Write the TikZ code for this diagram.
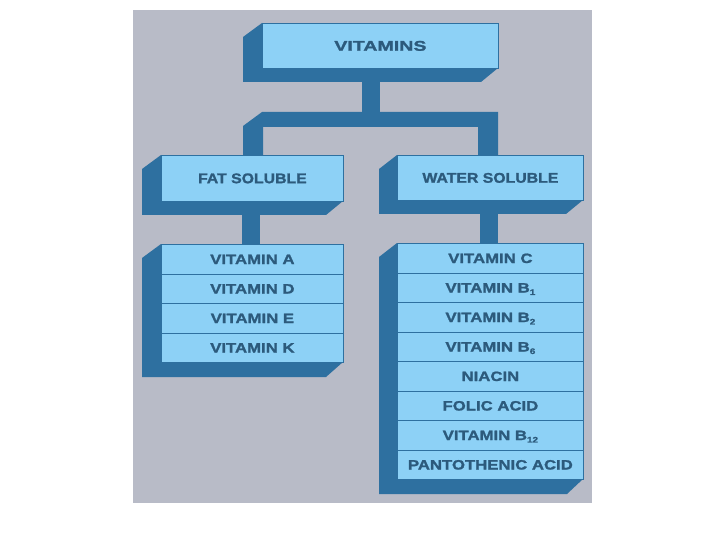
\documentclass[tikz,border=0pt]{standalone}
\usepackage{fontspec}
\setmainfont{Liberation Sans}
\newfontfamily\topf[FakeStretch=1.40,BoldFeatures={FakeBold=1.5}]{Liberation Sans}
\newfontfamily\titf[FakeStretch=1.13,BoldFeatures={FakeBold=1.5}]{Liberation Sans}
\newfontfamily\rowf[FakeStretch=1.24,BoldFeatures={FakeBold=1.5}]{Liberation Sans}
\definecolor{panel}{HTML}{B8BBC7}
\definecolor{face}{HTML}{8DD1F6}
\definecolor{deep}{HTML}{2E70A0}
\definecolor{ink}{HTML}{2C5A7C}
\newcommand{\sbs}[1]{\raisebox{-0.35ex}{\fontsize{8}{8}\selectfont #1}}
\tikzset{
  facebox/.style={fill=face, draw=deep, line width=0.8pt},
  toplab/.style={text=ink, font=\topf\bfseries\fontsize{14}{14}\selectfont},
  titlab/.style={text=ink, font=\titf\bfseries\fontsize{14}{14}\selectfont},
  rowlab/.style={text=ink, font=\rowf\bfseries\fontsize{13.5}{13.5}\selectfont, text height=9.7pt, text depth=0pt, inner sep=0pt},
}
\begin{document}
\begin{tikzpicture}[x=1pt,y=-1pt]
\useasboundingbox (0,0) rectangle (720,540);
\fill[white] (0,0) rectangle (720,540);
\fill[panel] (133,10) rectangle (592,503);

% connectors
\fill[deep] (362,80) rectangle (380,113);
\fill[deep] (262,112) -- (243,126) -- (243,156) -- (263,156) -- (263,127)
  -- (478,127) -- (478,156) -- (498,156) -- (498,112) -- cycle;
\fill[deep] (242,213) rectangle (260,245);
\fill[deep] (480,212) rectangle (498,244);

% VITAMINS
\fill[deep] (262,23) -- (243,37) -- (243,82) -- (481,82) -- (498,68) -- cycle;
\node[facebox, minimum width=236pt, minimum height=45pt, anchor=north west, inner sep=0pt] (vit) at (262,23) {};
\node[toplab] at (vit.center) {VITAMINS};

% FAT SOLUBLE
\fill[deep] (161,155) -- (142,169) -- (142,215) -- (326,215) -- (343,201) -- cycle;
\node[facebox, minimum width=182pt, minimum height=46pt, anchor=north west, inner sep=0pt] (fat) at (161,155) {};
\node[titlab] at (fat.center) {FAT SOLUBLE};

% WATER SOLUBLE
\fill[deep] (397,155) -- (379,169) -- (379,214) -- (566,214) -- (583,200) -- cycle;
\node[facebox, minimum width=186pt, minimum height=45pt, anchor=north west, inner sep=0pt] (wat) at (397,155) {};
\node[titlab] at (wat.center) {WATER SOLUBLE};

% fat list
\fill[deep] (161,244) -- (142,258) -- (142,377) -- (326,377) -- (343,362) -- cycle;
\foreach \t [count=\i from 0] in {VITAMIN A,VITAMIN D,VITAMIN E,VITAMIN K}{
  \node[facebox, minimum width=182pt, minimum height=29.5pt, anchor=north west, inner sep=0pt] (f\i) at (161,244+29.5*\i) {};
  \node[rowlab] at (f\i.center) {\t};
}

% water list
\fill[deep] (397,243) -- (379,257) -- (379,494) -- (567,494) -- (583,479) -- cycle;
\foreach \t [count=\i from 0] in {VITAMIN C,VITAMIN B\sbs{1},VITAMIN B\sbs{2},VITAMIN B\sbs{6},NIACIN,FOLIC ACID,VITAMIN B\sbs{12},PANTOTHENIC ACID}{
  \node[facebox, minimum width=186pt, minimum height=29.5pt, anchor=north west, inner sep=0pt] (w\i) at (397,243+29.5*\i) {};
  \node[rowlab] at (w\i.center) {\t};
}
\end{tikzpicture}
\end{document}
